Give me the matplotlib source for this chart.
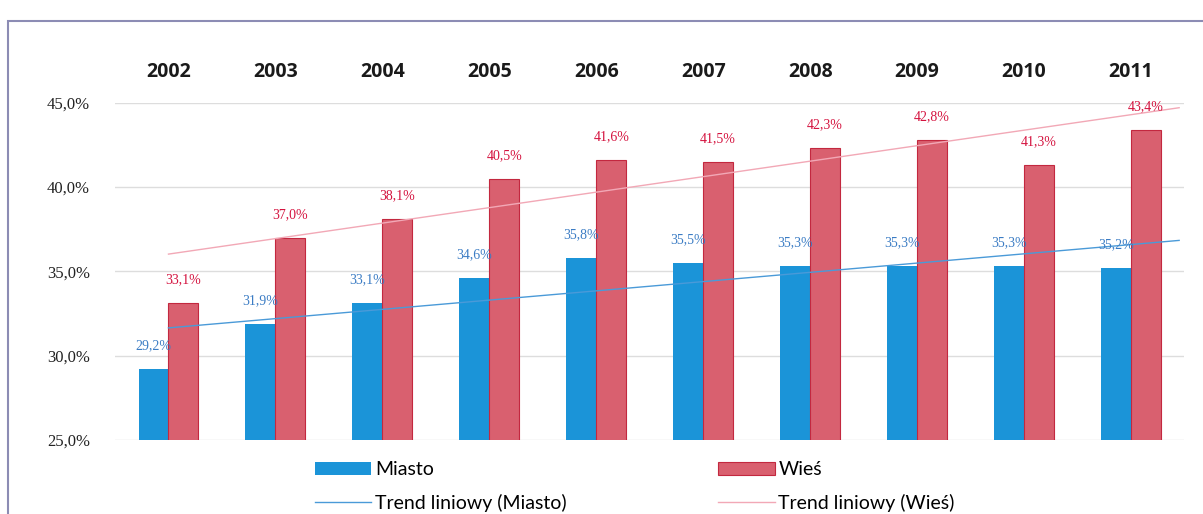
import numpy as np
import matplotlib.pyplot as plt
from matplotlib.patches import Rectangle

# Data
years = ['2002', '2003', '2004', '2005', '2006', '2007', '2008', '2009', '2010', '2011']
miasto = [29.2, 31.9, 33.1, 34.6, 35.8, 35.5, 35.3, 35.3, 35.3, 35.2]
wies = [33.1, 37.0, 38.1, 40.5, 41.6, 41.5, 42.3, 42.8, 41.3, 43.4]

blue = '#1b94d8'
red = '#d9606f'
blue_txt = '#3b7cc4'
red_txt = '#d4123e'

fig = plt.figure(figsize=(12.03, 5.14), dpi=100)
ax = fig.add_axes([0.0956, 0.144, 0.889, 0.656])

x = np.arange(len(years))
w = 0.28
b1 = ax.bar(x - w / 2, miasto, w, color=blue, label='Miasto', zorder=2)
b2 = ax.bar(x + w / 2, wies, w, color=red, edgecolor='#c3283f', linewidth=0.8,
            label='Wieś', zorder=2)

# Linear trends
pm = np.polyfit(x, miasto, 1)
pw = np.polyfit(x, wies, 1)
xt = np.array([0, 9.45])
lm, = ax.plot(xt, np.polyval(pm, xt), color='#4a9ad8', lw=1, zorder=3,
              label='Trend liniowy (Miasto)')
lw_, = ax.plot(xt, np.polyval(pw, xt), color='#f2a8b6', lw=1, zorder=3,
               label='Trend liniowy (Wieś)')

# Data labels
for xi, v in zip(x, miasto):
    ax.text(xi - w / 2, v + 1.0, f'{v:.1f}%'.replace('.', ','), ha='center', va='bottom',
            color=blue_txt, fontsize=10, family='Liberation Serif')
for xi, v in zip(x, wies):
    ax.text(xi + w / 2, v + 1.0, f'{v:.1f}%'.replace('.', ','), ha='center', va='bottom',
            color=red_txt, fontsize=10, family='Liberation Serif')

ax.set_xlim(-0.5, 9.5)
ax.set_ylim(25, 45)
ax.set_yticks([25, 30, 35, 40, 45])
ax.set_yticklabels(['25,0%', '30,0%', '35,0%', '40,0%', '45,0%'],
                   family='Liberation Serif', fontsize=12, color='#222222')
ax.grid(axis='y', color='#dddddd', lw=1, zorder=0)
ax.set_axisbelow(True)

ax.set_xticks(x)
ax.set_xticklabels(years, fontsize=14, fontweight='bold', family='Open Sans', color='#1a1a1a')
ax.xaxis.tick_top()
ax.tick_params(axis='x', length=0, pad=15)
ax.tick_params(axis='y', length=0, pad=18)
for s in ax.spines.values():
    s.set_visible(False)

fig.legend(handles=[b1, lm, b2, lw_], ncol=2, loc='upper left',
           bbox_to_anchor=(0.255, 0.118), frameon=False,
           prop={'family': 'Lato', 'size': 14}, handlelength=2.9,
           handletextpad=0.2, columnspacing=7.8, labelspacing=0.8, borderaxespad=0)

# outer frame
fig.patches.append(Rectangle((0.007, -0.01), 1.0, 0.97, transform=fig.transFigure,
                             fill=False, edgecolor='#8c8cb4', lw=1.5))

fig.savefig('out.png', dpi=100)
